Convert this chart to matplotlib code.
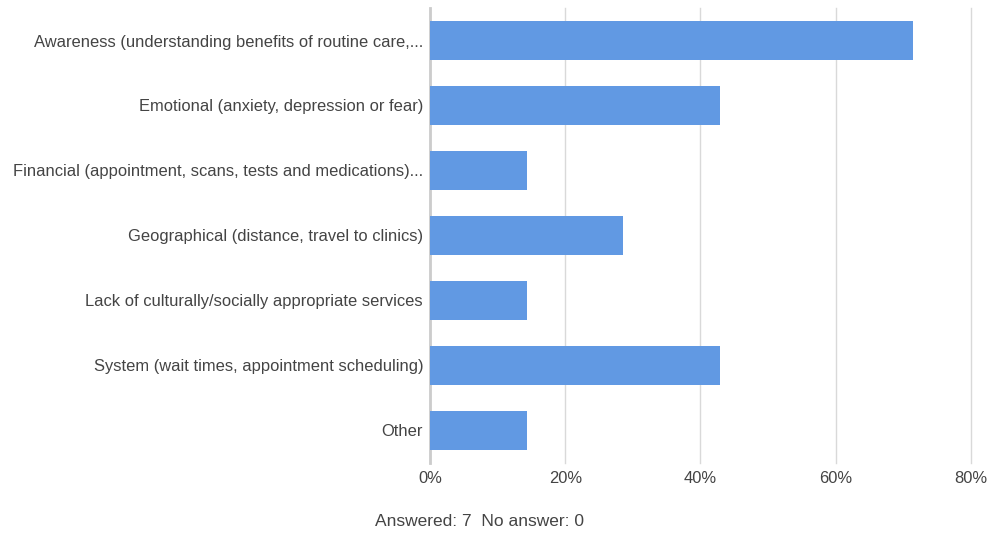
import matplotlib.pyplot as plt
from matplotlib.ticker import FuncFormatter

plt.rcParams['font.family'] = ['Liberation Sans', 'DejaVu Sans']

categories = [
    'Awareness (understanding benefits of routine care,...',
    'Emotional (anxiety, depression or fear)',
    'Financial (appointment, scans, tests and medications)...',
    'Geographical (distance, travel to clinics)',
    'Lack of culturally/socially appropriate services',
    'System (wait times, appointment scheduling)',
    'Other',
]
counts = [5, 3, 1, 2, 1, 3, 1]
answered = 7
no_answer = 0
pct = [c / answered * 100 for c in counts]

fig = plt.figure(figsize=(9.9, 5.35), dpi=100)
ax = fig.add_axes([0.4343, 0.135, 0.5465, 0.85])

ax.barh(range(len(categories)), pct, height=0.6, color='#6199e3', zorder=3)
ax.set_yticks(range(len(categories)))
ax.set_yticklabels(categories)
ax.set_ylim(6.5, -0.5)
ax.set_xlim(0, 80)
ax.set_xticks([0, 20, 40, 60, 80])
ax.xaxis.set_major_formatter(FuncFormatter(lambda v, p: f'{v:.0f}%'))

ax.grid(axis='x', color='#d9d9d9', linewidth=1, zorder=0)
for gl in ax.get_xgridlines():
    gl.set_clip_on(False)
for s in ['top', 'right', 'bottom']:
    ax.spines[s].set_visible(False)
ax.spines['left'].set_color('#cccccc')
ax.spines['left'].set_linewidth(2)
ax.tick_params(length=0, labelsize=11.9, colors='#444444')
ax.tick_params(axis='y', pad=5)
ax.tick_params(axis='x', pad=6)

fig.text(0.379, 0.012, f'Answered: {answered}  No answer: {no_answer}',
         fontsize=12.5, color='#444444', ha='left', va='bottom')

fig.savefig('out.png', dpi=100)
